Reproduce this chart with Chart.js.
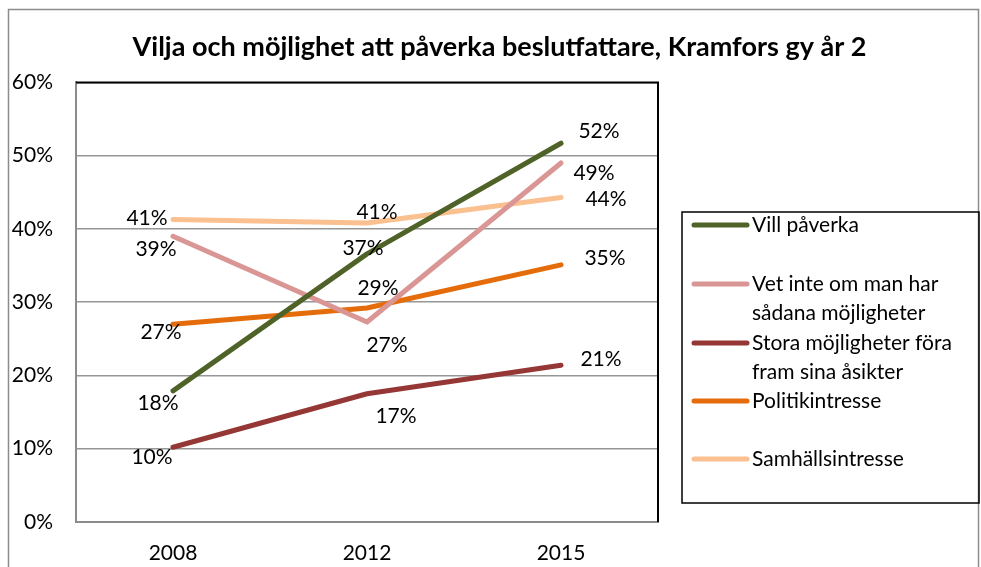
<!DOCTYPE html>
<html>
<head>
<meta charset="utf-8">
<script src="https://cdn.jsdelivr.net/npm/chart.js@4.4.0/dist/chart.umd.min.js"></script>
<style>
  html, body { margin: 0; padding: 0; background: #fff; }
  #wrap { width: 981px; height: 567px; position: relative; }
</style>
</head>
<body>
<div id="wrap"><canvas id="chart"></canvas></div>
<script>
const years = ["2008", "2012", "2015"];
const villPaverka = [17.9, 36.6, 51.7];
const vetInte = [39.0, 27.3, 49.0];
const storaMojligheter = [10.2, 17.5, 21.4];
const politikintresse = [27.0, 29.2, 35.1];
const samhallsintresse = [41.3, 40.8, 44.3];
const valueLabels = [
    ["18%", "37%", "52%"],
    ["39%", "27%", "49%"],
    ["10%", "17%", "21%"],
    ["27%", "29%", "35%"],
    ["41%", "41%", "44%"]
];
const seriesNames = [
    "Vill påverka",
    ["Vet inte om man har", "sådana möjligheter"],
    ["Stora möjligheter föra", "fram sina åsikter"],
    "Politikintresse",
    "Samhällsintresse"
];
const yTicks = [0, 10, 20, 30, 40, 50, 60];

const colors = ["#4F6228", "#D99694", "#953735", "#E46C0A", "#FAC090"];
// where each value label sits relative to its point (px)
const labelOffsets = [
    [[-15, 12], [-4, -6], [38, -12]],
    [[-17, 13], [20, 23], [33, 10]],
    [[-21, 10], [29, 22], [40, -6]],
    [[-12, 8], [11, -20], [44, -7]],
    [[-26, -1], [10, -11], [45, 2]]
];
const FONT = "Lato, 'Open Sans', sans-serif";

const frameAndLegend = {
    id: "frameAndLegend",
    afterLayout(chart) {
        // the title in the original sits a bit right of the page centre
        if (chart.titleBlock) chart.titleBlock.left += 18;
    },
    beforeDraw(chart) {
        const ctx = chart.ctx;
        ctx.save();
        ctx.fillStyle = "#fff";
        ctx.fillRect(0, 0, chart.width, chart.height);
        ctx.strokeStyle = "#8c8c8c";
        ctx.lineWidth = 1.5;
        ctx.strokeRect(8.5, 9.5, 970, 600);
        ctx.restore();
    },
    beforeDatasetsDraw(chart) {
        const a = chart.chartArea;
        const ctx = chart.ctx;
        ctx.save();
        ctx.strokeStyle = "#000";
        ctx.lineWidth = 2;
        ctx.beginPath();
        ctx.moveTo(a.left, a.top);
        ctx.lineTo(a.right, a.top);
        ctx.lineTo(a.right, a.bottom);
        ctx.stroke();
        ctx.restore();
    },
    afterDatasetsDraw(chart) {
        const ctx = chart.ctx;
        ctx.save();
        ctx.font = "21px " + FONT;
        ctx.fillStyle = "#000";
        ctx.textAlign = "center";
        ctx.textBaseline = "middle";
        chart.data.datasets.forEach((ds, i) => {
            chart.getDatasetMeta(i).data.forEach((pt, j) => {
                const off = labelOffsets[i][j];
                ctx.fillText(valueLabels[i][j], pt.x + off[0], pt.y + off[1]);
            });
        });

        // legend
        ctx.strokeStyle = "#000";
        ctx.lineWidth = 1.5;
        ctx.strokeRect(682, 212, 297, 291);
        const rowY = [225, 284, 343, 401, 459];
        ctx.textAlign = "left";
        chart.data.datasets.forEach((ds, i) => {
            ctx.strokeStyle = ds.borderColor;
            ctx.lineWidth = 5;
            ctx.lineCap = "round";
            ctx.beginPath();
            ctx.moveTo(694, rowY[i]);
            ctx.lineTo(747, rowY[i]);
            ctx.stroke();
            const lines = Array.isArray(seriesNames[i]) ? seriesNames[i] : [seriesNames[i]];
            lines.forEach((t, k) => ctx.fillText(t, 752, rowY[i] + k * 29));
        });
        ctx.restore();
    }
};

const names = [villPaverka, vetInte, storaMojligheter, politikintresse, samhallsintresse];

new Chart(document.getElementById("chart"), {
    type: "line",
    data: {
        labels: years,
        datasets: names.map((vals, i) => ({
            label: Array.isArray(seriesNames[i]) ? seriesNames[i].join(" ") : seriesNames[i],
            data: vals,
            borderColor: colors[i],
            backgroundColor: colors[i],
            borderWidth: 5,
            borderCapStyle: "round",
            borderJoinStyle: "round",
            pointRadius: 0,
            tension: 0
        }))
    },
    options: {
        responsive: true,
        maintainAspectRatio: false,
        animation: false,
        layout: { padding: 0 },
        plugins: {
            legend: { display: false },
            tooltip: { enabled: false },
            title: {
                display: true,
                text: "Vilja och möjlighet att påverka beslutfattare, Kramfors gy år 2",
                color: "#000",
                font: { family: FONT, size: 27, weight: "bold" },
                padding: { top: 31, bottom: 19 }
            }
        },
        scales: {
            x: {
                offset: true,
                grid: { display: false, drawTicks: false },
                border: { display: true, color: "#8c8c8c", width: 2 },
                ticks: { color: "#000", font: { family: FONT, size: 21 }, padding: 19 },
                afterFit(scale) { scale.height = 45; }
            },
            y: {
                min: 0,
                max: 60,
                afterBuildTicks(scale) { scale.ticks = yTicks.map(v => ({ value: v })); },
                grid: { color: "#969696", lineWidth: 1.5, drawTicks: false },
                border: { display: true, color: "#8c8c8c", width: 2 },
                ticks: {
                    color: "#000",
                    font: { family: FONT, size: 21 },
                    padding: 23,
                    callback: v => v + "%"
                },
                afterFit(scale) { scale.width = 76; }
            },
            yRight: {
                position: "right",
                min: 0,
                max: 60,
                grid: { display: false, drawTicks: false },
                border: { display: false },
                ticks: { display: false },
                afterFit(scale) { scale.width = 323; }
            }
        }
    },
    plugins: [frameAndLegend]
});
</script>
</body>
</html>
